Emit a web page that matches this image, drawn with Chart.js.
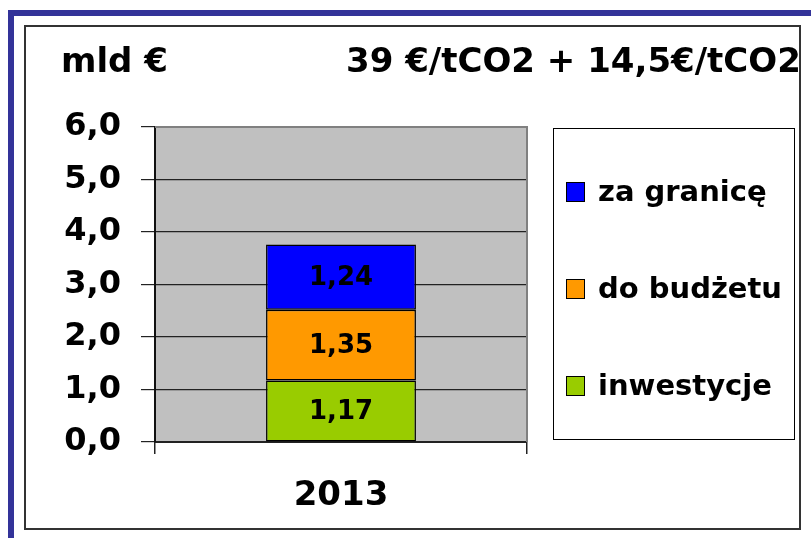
<!DOCTYPE html>
<html>
<head>
<meta charset="utf-8">
<script src="https://cdn.jsdelivr.net/npm/chart.js@4"></script>
<style>
  body { margin: 0; background: #fff; }
  canvas { display: block; }
</style>
</head>
<body>
<canvas id="chart" width="811" height="538"></canvas>
<script>
const years = ["2013"];
const seriesNames = ["inwestycje", "do budżetu", "za granicę"];
const inwestycje = [1.17];
const doBudzetu = [1.35];
const zaGranice = [1.24];
const seriesColors = ["#99CC00", "#FF9900", "#0000FF"];
const unitLabel = "mld €";
const priceLabel = "39 €/tCO2 + 14,5€/tCO2";

const FONT = "'DejaVu Sans', sans-serif";

const fmt = (v) => v.toFixed(v % 1 === 0 ? 1 : 2).replace(".", ",");

// frames, headings, plot background
const framePlugin = {
  id: "frame",
  beforeDraw(chart) {
    const ctx = chart.ctx;
    const a = chart.chartArea;
    ctx.save();
    ctx.fillStyle = "#fff";
    ctx.fillRect(0, 0, chart.width, chart.height);
    ctx.fillStyle = "#333399";
    ctx.fillRect(8, 10, chart.width - 8, 6);
    ctx.fillRect(8, 10, 6, chart.height - 10);
    ctx.strokeStyle = "#333";
    ctx.lineWidth = 2;
    ctx.strokeRect(25, 26, 775, 503);
    ctx.fillStyle = "#C0C0C0";
    ctx.fillRect(a.left, a.top, a.right - a.left, a.bottom - a.top);
    ctx.restore();
  },
  afterDraw(chart) {
    const ctx = chart.ctx;
    const a = chart.chartArea;
    ctx.save();
    // plot border top / right
    ctx.strokeStyle = "#808080";
    ctx.lineWidth = 2;
    ctx.beginPath();
    ctx.moveTo(a.left, a.top);
    ctx.lineTo(a.right, a.top);
    ctx.lineTo(a.right, a.bottom);
    ctx.stroke();

    ctx.fillStyle = "#000";
    ctx.font = `bold 34px ${FONT}`;
    ctx.textBaseline = "alphabetic";
    ctx.textAlign = "left";
    ctx.fillText(unitLabel, 61, 72);
    ctx.fillText(priceLabel, 346, 72);

    // legend box
    ctx.strokeStyle = "#000";
    ctx.lineWidth = 1;
    ctx.strokeRect(553.5, 128.5, 241, 311);
    const rows = [192, 289, 386];
    const order = [2, 1, 0];
    ctx.font = `bold 29px ${FONT}`;
    ctx.textBaseline = "middle";
    order.forEach((di, i) => {
      const ds = chart.data.datasets[di];
      ctx.fillStyle = ds.backgroundColor;
      ctx.fillRect(566, rows[i] - 10, 19, 20);
      ctx.strokeRect(566.5, rows[i] - 9.5, 18, 19);
      ctx.fillStyle = "#000";
      ctx.fillText(ds.label, 598, rows[i] + 1);
    });
    ctx.restore();
  },
  afterDatasetsDraw(chart) {
    const ctx = chart.ctx;
    ctx.save();
    ctx.font = `bold 26px ${FONT}`;
    ctx.fillStyle = "#000";
    ctx.textAlign = "center";
    ctx.textBaseline = "middle";
    chart.data.datasets.forEach((ds, di) => {
      chart.getDatasetMeta(di).data.forEach((bar, i) => {
        const p = bar.getProps(["x", "y", "base"], true);
        ctx.fillText(fmt(ds.data[i]), p.x, (p.y + p.base) / 2 + 1);
      });
    });
    ctx.restore();
  },
};

const datasets = [inwestycje, doBudzetu, zaGranice].map((values, i) => ({
  label: seriesNames[i],
  data: values,
  backgroundColor: seriesColors[i],
  borderColor: "#000",
  borderWidth: 1.5,
  borderSkipped: false,
  barPercentage: 0.403,
  categoryPercentage: 1,
}));

new Chart(document.getElementById("chart"), {
  type: "bar",
  data: { labels: years, datasets: datasets },
  plugins: [framePlugin],
  options: {
    responsive: false,
    animation: false,
    layout: { padding: { left: 0, right: 284, top: 127, bottom: 0 } },
    plugins: {
      legend: { display: false },
      tooltip: { enabled: false },
    },
    scales: {
      x: {
        stacked: true,
        afterFit: (scale) => { scale.height = 96; },
        grid: {
          offset: true,
          drawOnChartArea: false,
          tickLength: 12,
          color: "#222",
          lineWidth: 1.5,
        },
        border: { display: true, color: "#222", width: 2 },
        ticks: {
          color: "#000",
          padding: 22,
          font: { family: FONT, size: 34, weight: "bold" },
        },
      },
      y: {
        stacked: true,
        min: 0,
        max: 6,
        afterFit: (scale) => { scale.width = 155; },
        grid: {
          color: "#222",
          lineWidth: 1.2,
          tickLength: 14,
        },
        border: { display: true, color: "#111", width: 2 },
        ticks: {
          stepSize: 1,
          color: "#000",
          padding: 20,
          font: { family: FONT, size: 32, weight: "bold" },
          callback: (v) => fmt(v),
        },
      },
    },
  },
});
</script>
</body>
</html>
